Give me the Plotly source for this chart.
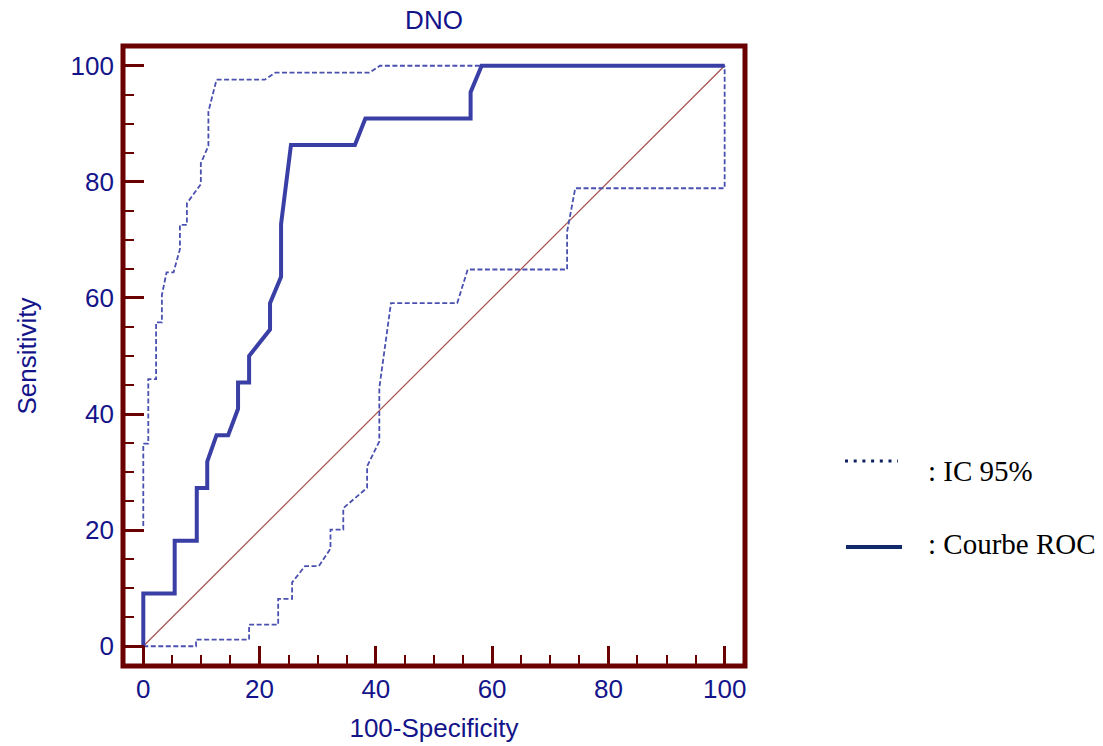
import plotly.graph_objects as go

# ---- data ----
roc_x = [0, 0, 5.4, 5.4, 9.2, 9.2, 11.0, 11.0, 12.6, 14.6, 16.3, 16.3, 18.2, 18.2,
         21.8, 21.8, 23.7, 23.7, 25.4, 36.4, 38.2, 56.3, 56.3, 58.2, 100]
roc_y = [0, 9.09, 9.09, 18.18, 18.18, 27.27, 27.27, 31.82, 36.36, 36.36, 40.91, 45.45, 45.45, 50.0,
         54.55, 59.09, 63.64, 72.73, 86.36, 86.36, 90.91, 90.91, 95.45, 100, 100]

ci_up_x = [0, 0, 0.86, 0.86, 2.2, 2.2, 3.2, 3.2, 4.0, 5.2, 6.3, 6.3, 7.5, 7.5, 9.9, 9.9,
           11.2, 11.2, 12.6, 20.9, 22.7, 38.9, 40.7, 100]
ci_up_y = [20.7, 34.9, 34.9, 46.0, 46.0, 55.8, 55.8, 60.5, 64.4, 64.4, 68.4, 72.6, 72.6, 76.3, 79.6, 83.2,
           86.2, 92.1, 97.6, 97.6, 98.8, 98.8, 100, 100]

ci_lo_x = [0, 9.07, 9.07, 18.2, 18.2, 23.2, 23.2, 25.6, 25.6, 27.8, 30.2, 32.2, 32.2, 34.4, 34.4,
           38.5, 38.5, 40.6, 40.6, 42.6, 54.0, 55.8, 72.9, 72.9, 74.3, 100, 100]
ci_lo_y = [0, 0, 1.15, 1.15, 3.73, 3.73, 8.15, 8.15, 11.0, 13.8, 13.8, 16.8, 20.1, 20.1, 23.8,
           27.3, 31.0, 35.3, 44.5, 59.1, 59.1, 64.9, 64.9, 71.4, 78.9, 78.9, 100]

diag_x = [0, 100]
diag_y = [0, 100]

title_text = "DNO"
x_title = "100-Specificity"
y_title = "Sensitivity"
legend_ci = ": IC 95%"
legend_roc = ": Courbe ROC"

# ---- styles ----
FRAME = "#6b0000"
NAVY = "#14148a"
BLUE = "#3a3fa5"
CI_BLUE = "#4a50b0"
FONT = "Arial, Liberation Sans, sans-serif"
SERIF = "Times New Roman, Liberation Serif, serif"
FS = 26

fig = go.Figure()
fig.add_trace(go.Scatter(x=diag_x, y=diag_y, mode="lines",
                         line=dict(color="#a5524f", width=1.2), showlegend=False, hoverinfo="skip"))
fig.add_trace(go.Scatter(x=ci_up_x, y=ci_up_y, mode="lines",
                         line=dict(color=CI_BLUE, width=1.8, dash="5px,2.5px"), showlegend=False))
fig.add_trace(go.Scatter(x=ci_lo_x, y=ci_lo_y, mode="lines",
                         line=dict(color=CI_BLUE, width=1.8, dash="5px,2.5px"), showlegend=False))
fig.add_trace(go.Scatter(x=roc_x, y=roc_y, mode="lines",
                         line=dict(color=BLUE, width=4), showlegend=False))

axis_common = dict(
    showgrid=False, zeroline=False, showline=False, automargin=False,
    ticks="inside", tickcolor=FRAME, tickwidth=2.5,
    tick0=0, dtick=20,
    minor=dict(ticks="inside", dtick=5, tick0=0, ticklen=11, tickwidth=2, tickcolor=FRAME),
    tickfont=dict(family=FONT, size=FS, color=NAVY),
)

fig.update_layout(
    width=1103, height=746,
    margin=dict(l=123, r=358, t=46, b=80, autoexpand=False),
    paper_bgcolor="white", plot_bgcolor="white",
    font=dict(family=FONT, color=NAVY),
    title=dict(text=title_text, x=(123 + 745) / 2 / 1103, xanchor="center",
               y=1 - 20 / 746, yanchor="middle", yref="container",
               font=dict(family=FONT, size=FS, color=NAVY)),
    xaxis=dict(range=[-3.49, 103.5], ticklen=20, ticklabelstandoff=5,
               title=dict(text=x_title, font=dict(family=FONT, size=FS, color=NAVY), standoff=15),
               **axis_common),
    yaxis=dict(range=[-3.4, 103.4], ticklen=21, ticklabelstandoff=8,
               title=dict(text=y_title, font=dict(family=FONT, size=FS, color=NAVY), standoff=26),
               **axis_common),
    showlegend=False,
)

# frame
fig.add_shape(type="rect", xref="paper", yref="paper", x0=0, x1=1, y0=0, y1=1,
              line=dict(color=FRAME, width=5), layer="above")

# custom legend (outside plot)
def px_x(p):
    return (p - 123) / 622

def px_y(p):
    return (666 - p) / 620

fig.add_shape(type="line", xref="paper", yref="paper",
              x0=px_x(845), x1=px_x(898), y0=px_y(461), y1=px_y(461),
              line=dict(color="#0d2160", width=3, dash="3px,5.7px"))
fig.add_shape(type="line", xref="paper", yref="paper",
              x0=px_x(846), x1=px_x(902), y0=px_y(547), y1=px_y(547),
              line=dict(color="#102a6b", width=4))
fig.add_annotation(text=legend_ci, xref="paper", yref="paper", x=px_x(926), y=px_y(471),
                   xanchor="left", yanchor="middle", showarrow=False,
                   font=dict(family=SERIF, size=29, color="black"))
fig.add_annotation(text=legend_roc, xref="paper", yref="paper", x=px_x(926), y=px_y(544),
                   xanchor="left", yanchor="middle", showarrow=False,
                   font=dict(family=SERIF, size=29, color="black"))

fig.write_html("out.html")
